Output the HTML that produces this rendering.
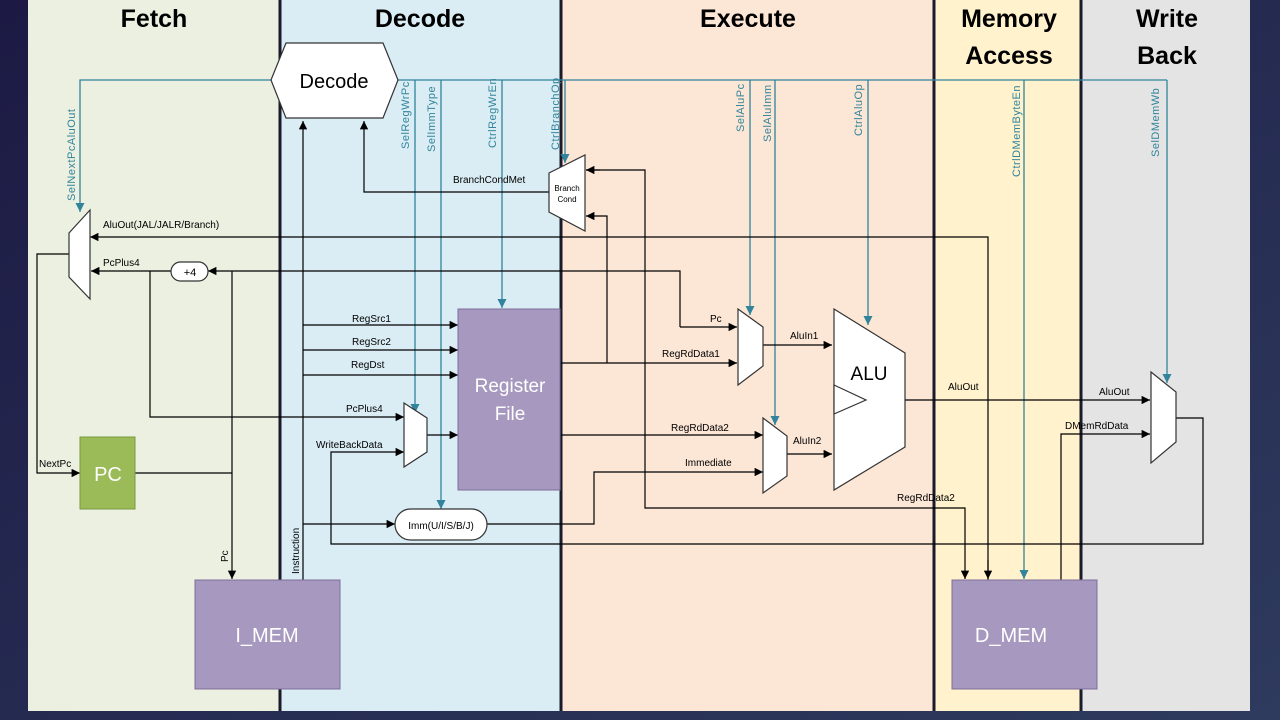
<!DOCTYPE html>
<html><head><meta charset="utf-8"><style>
html,body{margin:0;padding:0;background:#1f1f45;}
svg{display:block;font-family:"Liberation Sans",sans-serif;}
</style></head><body>
<svg width="1280" height="720" viewBox="0 0 1280 720" xmlns="http://www.w3.org/2000/svg">
<defs>
<linearGradient id="bg" x1="0" y1="0" x2="1" y2="1"><stop offset="0" stop-color="#1c1a44"/><stop offset="1" stop-color="#2e3a5e"/></linearGradient>
<marker id="a" viewBox="0 0 10 10" refX="10" refY="5" markerWidth="7" markerHeight="7" orient="auto"><path d="M0,0L10,5L0,10z" fill="#000"/></marker>
<marker id="t" viewBox="0 0 10 10" refX="10" refY="5" markerWidth="7" markerHeight="7" orient="auto"><path d="M0,0L10,5L0,10z" fill="#31849b"/></marker>
</defs>
<rect width="1280" height="720" fill="url(#bg)"/>
<rect x="28" y="0" width="252" height="711" fill="#ebf0e0"/>
<rect x="280" y="0" width="281" height="711" fill="#daedf4"/>
<rect x="561" y="0" width="373" height="711" fill="#fce6d6"/>
<rect x="934" y="0" width="147" height="711" fill="#fff2cd"/>
<rect x="1081" y="0" width="169" height="711" fill="#e4e4e4"/>
<g stroke="#1a1a2a" stroke-width="3"><line x1="280" y1="0" x2="280" y2="711"/><line x1="561" y1="0" x2="561" y2="711"/><line x1="934" y1="0" x2="934" y2="711"/><line x1="1081" y1="0" x2="1081" y2="711"/></g>
<g font-weight="bold" font-size="25" text-anchor="middle" fill="#000">
<text x="154" y="27">Fetch</text><text x="420" y="27">Decode</text><text x="748" y="27">Execute</text>
<text x="1009" y="27">Memory</text><text x="1009" y="64">Access</text>
<text x="1167" y="27">Write</text><text x="1167" y="64">Back</text></g>

<g stroke="#31849b" stroke-width="1.3" fill="none">
<polyline points="271,80 80,80 80,212" marker-end="url(#t)"/>
<line x1="398" y1="80" x2="1167" y2="80"/>
<line x1="415" y1="80" x2="415" y2="413" marker-end="url(#t)"/>
<line x1="441" y1="80" x2="441" y2="509" marker-end="url(#t)"/>
<line x1="502" y1="80" x2="502" y2="308" marker-end="url(#t)"/>
<line x1="565" y1="80" x2="565" y2="163" marker-end="url(#t)"/>
<line x1="750" y1="80" x2="750" y2="315" marker-end="url(#t)"/>
<line x1="775" y1="80" x2="775" y2="425" marker-end="url(#t)"/>
<line x1="868" y1="80" x2="868" y2="325" marker-end="url(#t)"/>
<line x1="1024" y1="80" x2="1024" y2="579" marker-end="url(#t)"/>
<line x1="1167" y1="80" x2="1167" y2="383" marker-end="url(#t)"/>
</g>
<g font-size="11" letter-spacing="0.5" fill="#31849b">
<text transform="translate(75,201) rotate(-90)">SelNextPcAluOut</text>
<text transform="translate(409,149) rotate(-90)">SelRegWrPc</text>
<text transform="translate(435,152) rotate(-90)">SelImmType</text>
<text transform="translate(496,148) rotate(-90)">CtrlRegWrEn</text>
<text transform="translate(559,150) rotate(-90)">CtrlBranchOp</text>
<text transform="translate(744,132) rotate(-90)">SelAluPc</text>
<text transform="translate(771,142) rotate(-90)">SelAluImm</text>
<text transform="translate(862,136) rotate(-90)">CtrlAluOp</text>
<text transform="translate(1020,177) rotate(-90)">CtrlDMemByteEn</text>
<text transform="translate(1159,157) rotate(-90)">SelDMemWb</text>
</g>

<g stroke="#000" stroke-width="1.2" fill="none">
<polyline points="988,580 988,237 90,237" marker-end="url(#a)"/>
<line x1="988" y1="560" x2="988" y2="579" marker-end="url(#a)"/>
<polyline points="680,327 680,271 208,271" marker-end="url(#a)"/>
<line x1="171" y1="271" x2="91" y2="271" marker-end="url(#a)"/>
<polyline points="150,271 150,417 404,417" marker-end="url(#a)"/>
<line x1="680" y1="327" x2="737" y2="327" marker-end="url(#a)"/>
<polyline points="69,254 37,254 37,473 80,473" marker-end="url(#a)"/>
<polyline points="135,473 232,473"/>
<line x1="232" y1="271" x2="232" y2="579" marker-end="url(#a)"/>
<line x1="303" y1="580" x2="303" y2="121" marker-end="url(#a)"/>
<line x1="303" y1="325" x2="458" y2="325" marker-end="url(#a)"/>
<line x1="303" y1="350" x2="458" y2="350" marker-end="url(#a)"/>
<line x1="303" y1="375" x2="458" y2="375" marker-end="url(#a)"/>
<line x1="303" y1="524" x2="395" y2="524" marker-end="url(#a)"/>
<polyline points="549,192 364,192 364,121" marker-end="url(#a)"/>
<line x1="427" y1="435" x2="458" y2="435" marker-end="url(#a)"/>
<polyline points="1176,418 1203,418 1203,544 331,544 331,452 404,452" marker-end="url(#a)"/>
<polyline points="487,524 594,524 594,472 763,472" marker-end="url(#a)"/>
<line x1="561" y1="363" x2="737" y2="363" marker-end="url(#a)"/>
<polyline points="607,363 607,216 586,216" marker-end="url(#a)"/>
<line x1="561" y1="435" x2="763" y2="435" marker-end="url(#a)"/>
<polyline points="645,435 645,170 586,170"/>
<line x1="600" y1="170" x2="586" y2="170" marker-end="url(#a)"/>
<polyline points="645,435 645,508 965,508 965,579" marker-end="url(#a)"/>
<line x1="763" y1="345" x2="832" y2="345" marker-end="url(#a)"/>
<line x1="787" y1="454" x2="832" y2="454" marker-end="url(#a)"/>
<line x1="905" y1="400" x2="1150" y2="400" marker-end="url(#a)"/>
<polyline points="1061,580 1061,434 1150,434" marker-end="url(#a)"/>
</g>

<g stroke="#333" stroke-width="1.2" fill="#fff">
<polygon points="271,80 286,43 383,43 398,80 383,118 286,118"/>
<polygon points="69,233 90,210 90,299 69,277"/>
<polygon points="549,173 585,155 585,231 549,212"/>
<polygon points="404,403 427,418 427,452 404,467"/>
<polygon points="738,309 763,327 763,366 738,385"/>
<polygon points="763,418 787,436 787,476 763,493"/>
<polygon points="834,309 905,353 905,447 834,490"/>
<polygon points="834,385 866,400 834,414"/>
<polygon points="1151,372 1176,392 1176,442 1151,463"/>
<rect x="171" y="262" width="37" height="19" rx="9.5"/>
<rect x="395" y="509" width="92" height="31" rx="15.5"/>
</g>
<rect x="80" y="437" width="55" height="72" fill="#9bbb59" stroke="#7a9a40"/>
<rect x="195" y="580" width="145" height="109" fill="#a698be" stroke="#7f6e9c"/>
<rect x="458" y="309" width="102" height="181" fill="#a698be" stroke="#7f6e9c"/>
<rect x="952" y="580" width="145" height="109" fill="#a698be" stroke="#7f6e9c"/>
<g fill="#fff" text-anchor="middle">
<text x="108" y="481" font-size="20">PC</text>
<text x="267" y="642" font-size="20">I_MEM</text>
<text x="1011" y="642" font-size="20">D_MEM</text>
<text x="510" y="392" font-size="19">Register</text>
<text x="510" y="420" font-size="19">File</text>
</g>
<g text-anchor="middle" fill="#000">
<text x="334" y="88" font-size="20">Decode</text>
<text x="869" y="380" font-size="19">ALU</text>
<text x="190" y="276" font-size="11">+4</text>
<text x="441" y="529" font-size="10">Imm(U/I/S/B/J)</text>
<text x="567" y="191" font-size="8">Branch</text>
<text x="567" y="202" font-size="8">Cond</text>
</g>
<g font-size="10" fill="#000">
<text x="103" y="228">AluOut(JAL/JALR/Branch)</text>
<text x="103" y="266">PcPlus4</text>
<text x="39" y="467">NextPc</text>
<text transform="translate(228,562) rotate(-90)">Pc</text>
<text transform="translate(299,574) rotate(-90)">Instruction</text>
<text x="352" y="322">RegSrc1</text>
<text x="352" y="345">RegSrc2</text>
<text x="351" y="368">RegDst</text>
<text x="346" y="412">PcPlus4</text>
<text x="316" y="448">WriteBackData</text>
<text x="453" y="183">BranchCondMet</text>
<text x="710" y="322">Pc</text>
<text x="662" y="357">RegRdData1</text>
<text x="790" y="339">AluIn1</text>
<text x="671" y="431">RegRdData2</text>
<text x="685" y="466">Immediate</text>
<text x="793" y="444">AluIn2</text>
<text x="948" y="390">AluOut</text>
<text x="1099" y="395">AluOut</text>
<text x="1065" y="429">DMemRdData</text>
<text x="897" y="501">RegRdData2</text>
</g>
</svg>
</body></html>
